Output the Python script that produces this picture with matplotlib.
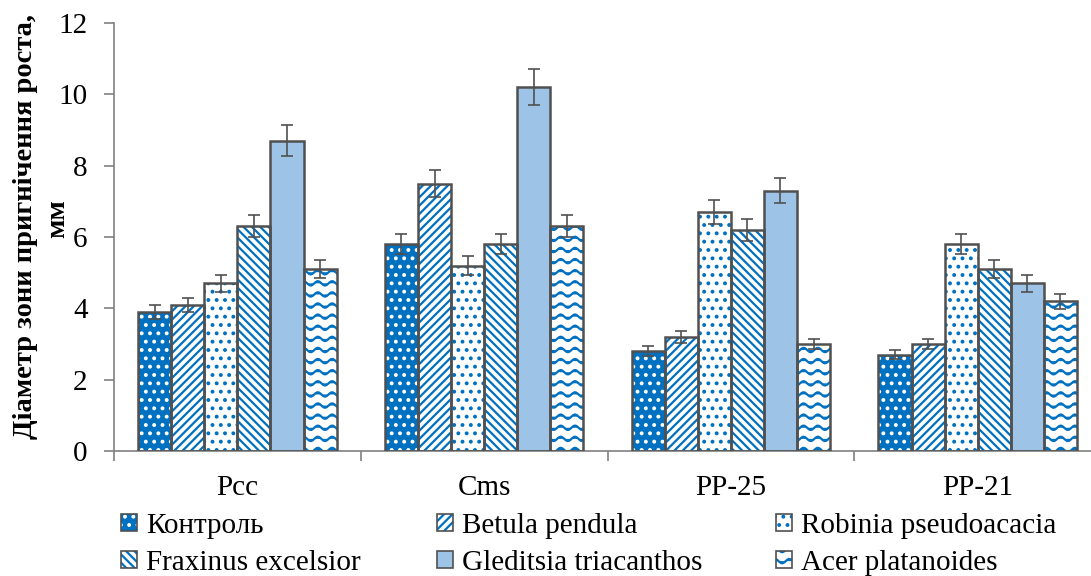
import numpy as np
import matplotlib
matplotlib.use("Agg")
import matplotlib.pyplot as plt
import matplotlib.hatch as mhatch
from matplotlib.path import Path
from matplotlib.patches import Patch
from matplotlib.font_manager import FontProperties

# ---------------- data ----------------
categories = ["Pcc", "Cms", "PP-25", "PP-21"]
series_names = ["Контроль", "Betula pendula", "Robinia pseudoacacia",
                "Fraxinus excelsior", "Gleditsia triacanthos", "Acer platanoides"]
kontrol = [3.9, 5.8, 2.8, 2.7]
betula = [4.1, 7.5, 3.2, 3.0]
robinia = [4.7, 5.2, 6.7, 5.8]
fraxinus = [6.3, 5.8, 6.2, 5.1]
gleditsia = [8.7, 10.2, 7.3, 4.7]
acer = [5.1, 6.3, 3.0, 4.2]

kontrol_err = [0.20, 0.29, 0.14, 0.13]
betula_err = [0.20, 0.37, 0.16, 0.15]
robinia_err = [0.24, 0.26, 0.33, 0.29]
fraxinus_err = [0.31, 0.29, 0.31, 0.25]
gleditsia_err = [0.43, 0.50, 0.36, 0.23]
acer_err = [0.25, 0.31, 0.15, 0.21]

yticks = [0, 2, 4, 6, 8, 10, 12]
ylabel_line1 = "Діаметр зони пригнічення роста,"
ylabel_line2 = "мм"


# ---------------- custom wave hatch ----------------
class WaveHatch(mhatch.HatchPatternBase):
    def __init__(self, hatch, density):
        self.num_lines = int(hatch.count('~') * density * 1.5)
        self.n_seg = 64
        self.num_vertices = self.num_lines * (self.n_seg + 1)

    def set_vertices_and_codes(self, vertices, codes):
        n = self.n_seg
        t = np.linspace(0.0, 1.0, n + 1)
        for i in range(self.num_lines):
            y0 = (i + 0.5) / self.num_lines
            sl = slice(i * (n + 1), (i + 1) * (n + 1))
            vertices[sl, 0] = t
            vertices[sl, 1] = y0 + 0.022 * np.sin(2 * np.pi * 7 * t)
            codes[sl] = Path.LINETO
            codes[i * (n + 1)] = Path.MOVETO


mhatch._hatch_types.append(WaveHatch)

import warnings
warnings.filterwarnings("ignore")

plt.rcParams['font.family'] = 'Liberation Serif'
plt.rcParams['hatch.linewidth'] = 1.6

BLUE = '#0070C0'
LIGHT = '#9DC3E6'
EDGE = '#505050'

styles = [
    dict(face=BLUE, hcol='white', hatch='..'),
    dict(face='white', hcol=BLUE, hatch='////'),
    dict(face='white', hcol=BLUE, hatch='..'),
    dict(face='white', hcol=BLUE, hatch='\\\\\\\\'),
    dict(face=LIGHT, hcol=LIGHT, hatch=None),
    dict(face='white', hcol=BLUE, hatch='~'),
]

values = [kontrol, betula, robinia, fraxinus, gleditsia, acer]
errors = [kontrol_err, betula_err, robinia_err, fraxinus_err, gleditsia_err, acer_err]

fig = plt.figure(figsize=(10.91, 5.76), dpi=100)
ax = fig.add_axes([0.1045, 0.217, 0.9047, 0.743])

x = np.arange(len(categories))
w = 0.134
handles = []
for i, (vals, errs, st) in enumerate(zip(values, errors, styles)):
    pos = x + (i - 2.5) * w
    ax.bar(pos, vals, width=w, color=st['face'], edgecolor=st['hcol'],
           hatch=st['hatch'], linewidth=0, zorder=2)
    ax.bar(pos, vals, width=w, facecolor='none', edgecolor=EDGE,
           linewidth=1.8, zorder=3)
    ax.errorbar(pos, vals, yerr=errs, fmt='none', ecolor=EDGE,
                elinewidth=1.2, capsize=4.5, capthick=1.2, zorder=4)
    h1 = Patch(facecolor=st['face'], edgecolor=st['hcol'], hatch=st['hatch'], linewidth=0)
    h2 = Patch(facecolor='none', edgecolor=EDGE, linewidth=1.2)
    handles.append((h1, h2))

ax.set_xlim(-0.5, 3.5)
ax.set_ylim(0, 12)
ax.set_yticks(yticks)
ax.set_yticklabels([str(v) for v in yticks], fontsize=21)
ax.set_xticks(x)
ax.set_xticklabels(categories, fontsize=21)
ax.set_xticks(np.arange(-0.5, 4.0, 1.0), minor=True)
ax.tick_params(axis='x', which='major', length=0, pad=17)
ax.tick_params(axis='x', which='minor', length=7, color='#808080', width=1.2)
ax.tick_params(axis='y', length=7, color='#808080', width=1.2, pad=12)
for s in ['top', 'right']:
    ax.spines[s].set_visible(False)
for s in ['left', 'bottom']:
    ax.spines[s].set_color('#808080')
    ax.spines[s].set_linewidth(1.2)

# y-axis title (two lines, placed separately like the original)
fig.text(0.023, 0.607, ylabel_line1, rotation=90, ha='center', va='center',
         fontsize=20.5, fontweight='bold')
fig.text(0.053, 0.621, ylabel_line2, rotation=90, ha='center', va='center',
         fontsize=20.5, fontweight='bold')

legend_font = FontProperties(family='Liberation Serif', size=21)
col_x = [0.111, 0.4005, 0.7115]
for c in range(3):
    idx = [c, c + 3]
    fig.legend([handles[k] for k in idx], [series_names[k] for k in idx],
               ncol=1, loc='lower left', bbox_to_anchor=(col_x[c], 0.0),
               frameon=False, prop=legend_font,
               handlelength=0.55, handleheight=0.55,
               handletextpad=0.3, labelspacing=0.38,
               borderaxespad=0, borderpad=0)

fig.savefig("out.png", dpi=100)
